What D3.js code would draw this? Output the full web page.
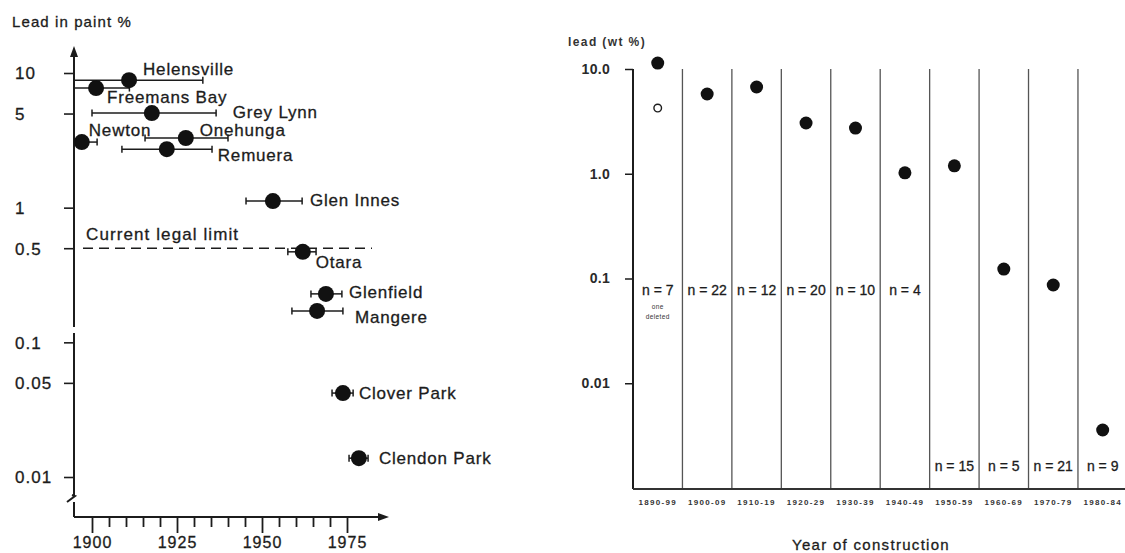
<!DOCTYPE html>
<html>
<head>
<meta charset="utf-8">
<script src="https://cdn.jsdelivr.net/npm/d3@7"></script>
<style>
  body { margin: 0; background: #fff; }
  svg { display: block; }
  text { font-family: "Liberation Sans", Arial, Helvetica, sans-serif; fill: #1c1c1c; stroke: #1c1c1c; stroke-width: 0.3px; }
  .lbl { font-size: 17px; letter-spacing: 0.8px; }
  .tick text { font-size: 17px; letter-spacing: 1px; }
</style>
</head>
<body>
<div id="main"></div>
<script>
// ---- left panel: lead in paint by suburb
const suburbs  = ["Helensville", "Freemans Bay", "Grey Lynn", "Newton", "Onehunga", "Remuera",
                  "Glen Innes", "Otara", "Glenfield", "Mangere", "Clover Park", "Clendon Park"];
const years    = [1910.9, 1901.2, 1917.6, 1897.0, 1927.6, 1922.0, 1953.2, 1962.0, 1968.8, 1966.2, 1973.8, 1978.5];
const leadPct  = [8.85, 7.73, 5.04, 3.07, 3.29, 2.72, 1.12, 0.47, 0.229, 0.171, 0.042, 0.0138];
const yearLow  = [1894.7, 1894.7, 1900.0, 1894.7, 1915.6, 1908.8, 1945.3, 1957.6, 1964.4, 1958.8, 1970.6, 1975.6];
const yearHigh = [1932.6, 1911.0, 1936.5, 1901.5, 1940.0, 1935.3, 1961.8, 1965.9, 1973.5, 1973.8, 1976.8, 1981.2];
const legalLimit = 0.5;
const leftYTicks = [10, 5, 1, 0.5, 0.1, 0.05, 0.01];
const leftXTicks = [1900, 1925, 1950, 1975];

// ---- right panel: lead by decade of construction
const decades  = ["1890-99", "1900-09", "1910-19", "1920-29", "1930-39",
                  "1940-49", "1950-59", "1960-69", "1970-79", "1980-84"];
const meanLead = [11.4, 5.77, 6.73, 3.05, 2.73, 1.02, 1.19, 0.123, 0.0867, 0.00358];
const nCounts  = [7, 22, 12, 20, 10, 4, 15, 5, 21, 9];
const deletedLead = 4.24;   // 1890-99 value with one sample deleted
const rightYTicks = [10, 1, 0.1, 0.01];

// label placement next to each suburb dot (layout only)
const labelOffset = {
  "Helensville": [14, -11], "Freemans Bay": [11, 9], "Grey Lynn": [81, -1], "Newton": [7, -12],
  "Onehunga": [14, -8], "Remuera": [51, 6], "Glen Innes": [37, -1], "Otara": [13, 10],
  "Glenfield": [23, -2], "Mangere": [38, 6], "Clover Park": [16, 0], "Clendon Park": [20, 0]
};

const width = 1125, height = 553;
const svg = d3.select("#main").append("svg").attr("width", width).attr("height", height);
const ink = "#1c1c1c";

// ================= LEFT =================
const axX = 74, axBottom = 517;
const x = d3.scaleLinear().domain([1900, 1975]).range([92, 347]);
const y = d3.scaleLog().domain([0.01, 10]).range([477, 73]);

svg.append("text").attr("x", 12).attr("y", 27).text("Lead in paint %")
  .style("font-size", "15px").style("letter-spacing", "1.1px");

// y axis ticks via d3 axis
const gy = svg.append("g").attr("transform", `translate(${axX},0)`)
  .call(d3.axisLeft(y).tickValues(leftYTicks).tickSize(10).tickFormat(d => String(d)));
gy.select(".domain").remove();
gy.selectAll(".tick line").attr("stroke", ink).attr("stroke-width", 1.6);
gy.selectAll(".tick text").attr("x", 15 - axX).attr("text-anchor", "start").attr("dy", "0.35em");

// y axis line with break + arrow
svg.append("path").attr("d", `M${axX},${axBottom}V502 M${axX},495V333 M${axX},327V52`)
  .attr("stroke", ink).attr("stroke-width", 2).attr("fill", "none");
svg.append("path").attr("d", `M${axX - 7},502 L${axX + 1},496 L${axX - 2},495`)
  .attr("stroke", ink).attr("stroke-width", 2).attr("fill", "none");
svg.append("path").attr("d", `M${axX},46 L${axX - 4},57 L${axX + 4},57Z`).attr("fill", ink);

// x axis
const gx = svg.append("g").attr("transform", `translate(0,${axBottom})`)
  .call(d3.axisBottom(x).tickValues(d3.range(1900, 1980, 5)).tickSize(10)
    .tickFormat(d => leftXTicks.includes(d) ? String(d) : ""));
gx.select(".domain").remove();
gx.selectAll(".tick line").attr("stroke", ink).attr("stroke-width", 1.8)
  .attr("y2", d => leftXTicks.includes(d) ? 16 : 10);
gx.selectAll(".tick text").attr("y", 31).attr("dy", 0).style("font-size", "16px");
svg.append("line").attr("x1", axX).attr("x2", 380).attr("y1", axBottom).attr("y2", axBottom)
  .attr("stroke", ink).attr("stroke-width", 2);
svg.append("path").attr("d", `M389,${axBottom} L378,${axBottom - 4} L378,${axBottom + 4}Z`).attr("fill", ink);

// legal limit
svg.append("line").attr("x1", 83).attr("x2", 372).attr("y1", y(legalLimit)).attr("y2", y(legalLimit))
  .attr("stroke", ink).attr("stroke-width", 1.6).attr("stroke-dasharray", "10,6");
svg.append("text").attr("class", "lbl").attr("x", 86).attr("y", y(legalLimit) - 8).text("Current legal limit")
  .style("letter-spacing", "1.1px");

// error bars + dots
const left = suburbs.map((s, i) => ({ s, yr: years[i], v: leadPct[i], lo: yearLow[i], hi: yearHigh[i] }));
const eb = svg.append("g").selectAll("g").data(left).enter().append("g")
  .attr("stroke", ink).attr("stroke-width", 1.5);
eb.append("line").attr("x1", d => x(d.lo)).attr("x2", d => x(d.hi)).attr("y1", d => y(d.v)).attr("y2", d => y(d.v));
eb.append("line").attr("x1", d => x(d.lo)).attr("x2", d => x(d.lo)).attr("y1", d => y(d.v) - 3.5).attr("y2", d => y(d.v) + 3.5);
eb.append("line").attr("x1", d => x(d.hi)).attr("x2", d => x(d.hi)).attr("y1", d => y(d.v) - 3.5).attr("y2", d => y(d.v) + 3.5);

svg.append("g").selectAll("circle").data(left).enter().append("circle")
  .attr("cx", d => x(d.yr)).attr("cy", d => y(d.v)).attr("r", 8).attr("fill", "#111");

svg.append("g").selectAll("text").data(left).enter().append("text")
  .attr("class", "lbl")
  .attr("x", d => x(d.yr) + labelOffset[d.s][0])
  .attr("y", d => y(d.v) + labelOffset[d.s][1])
  .attr("dy", "0.35em")
  .text(d => d.s);

// ================= RIGHT =================
const rAx = 633, rBottom = 489;
const xb = d3.scaleBand().domain(decades).range([rAx, 1127.4]);
const yr = d3.scaleLog().domain([0.001, 10]).range([488, 69]);

svg.append("text").attr("x", 568).attr("y", 46).text("lead (wt %)")
  .style("font-size", "12px").style("font-weight", "bold").style("letter-spacing", "1.4px")
  .style("fill", "#333").style("stroke", "none");

const gyr = svg.append("g").attr("transform", `translate(${rAx},0)`)
  .call(d3.axisLeft(yr).tickValues(rightYTicks).tickSize(8)
    .tickFormat(d => d >= 0.1 ? d.toFixed(1) : String(d)));
gyr.select(".domain").remove();
gyr.selectAll(".tick line").attr("stroke", ink).attr("stroke-width", 1.5);
gyr.selectAll(".tick text").attr("x", -23).style("font-size", "14px").style("font-weight", "bold")
  .style("letter-spacing", "0.3px").style("fill", "#2a2a2a").style("stroke", "none");

// separators
svg.append("g").selectAll("line").data(decades.slice(1)).enter().append("line")
  .attr("x1", d => xb(d)).attr("x2", d => xb(d)).attr("y1", yr(10)).attr("y2", rBottom)
  .attr("stroke", "#555").attr("stroke-width", 1.3);
svg.append("line").attr("x1", rAx).attr("x2", rAx).attr("y1", yr(10)).attr("y2", rBottom)
  .attr("stroke", ink).attr("stroke-width", 2);
svg.append("line").attr("x1", rAx).attr("x2", 1125).attr("y1", rBottom).attr("y2", rBottom)
  .attr("stroke", "#333").attr("stroke-width", 2);

// category labels
const gxr = svg.append("g").attr("transform", `translate(0,${rBottom})`)
  .call(d3.axisBottom(xb).tickSize(0));
gxr.select(".domain").remove();
gxr.selectAll(".tick text").attr("y", 10).attr("dy", "0.71em")
  .style("font-size", "8px").style("font-weight", "bold").style("letter-spacing", "1.3px")
  .style("fill", "#333").style("stroke", "none");

svg.append("text").attr("x", 871).attr("y", 550).attr("text-anchor", "middle").text("Year of construction")
  .style("font-size", "15px").style("letter-spacing", "1.3px");

// dots
const right = decades.map((d, i) => ({ d, v: meanLead[i], n: nCounts[i], i }));
svg.append("g").selectAll("circle").data(right).enter().append("circle")
  .attr("cx", d => xb(d.d) + xb.bandwidth() / 2).attr("cy", d => yr(d.v)).attr("r", 6.5).attr("fill", "#111");
svg.append("circle").attr("cx", xb(decades[0]) + xb.bandwidth() / 2).attr("cy", yr(deletedLead))
  .attr("r", 3.8).attr("fill", "#fff").attr("stroke", ink).attr("stroke-width", 1.4);

// n labels
svg.append("g").selectAll("text").data(right).enter().append("text")
  .attr("x", d => xb(d.d) + xb.bandwidth() / 2)
  .attr("y", d => d.i < 6 ? 295 : 471)
  .attr("text-anchor", "middle")
  .style("font-size", "14px")
  .text(d => `n = ${d.n}`);
const del = svg.append("text").attr("text-anchor", "middle").style("font-size", "6.5px")
  .style("fill", "#333").style("stroke", "none").style("letter-spacing", "0.4px");
del.append("tspan").attr("x", xb(decades[0]) + xb.bandwidth() / 2).attr("y", 309).text("one");
del.append("tspan").attr("x", xb(decades[0]) + xb.bandwidth() / 2).attr("y", 319).text("deleted");
</script>
</body>
</html>
